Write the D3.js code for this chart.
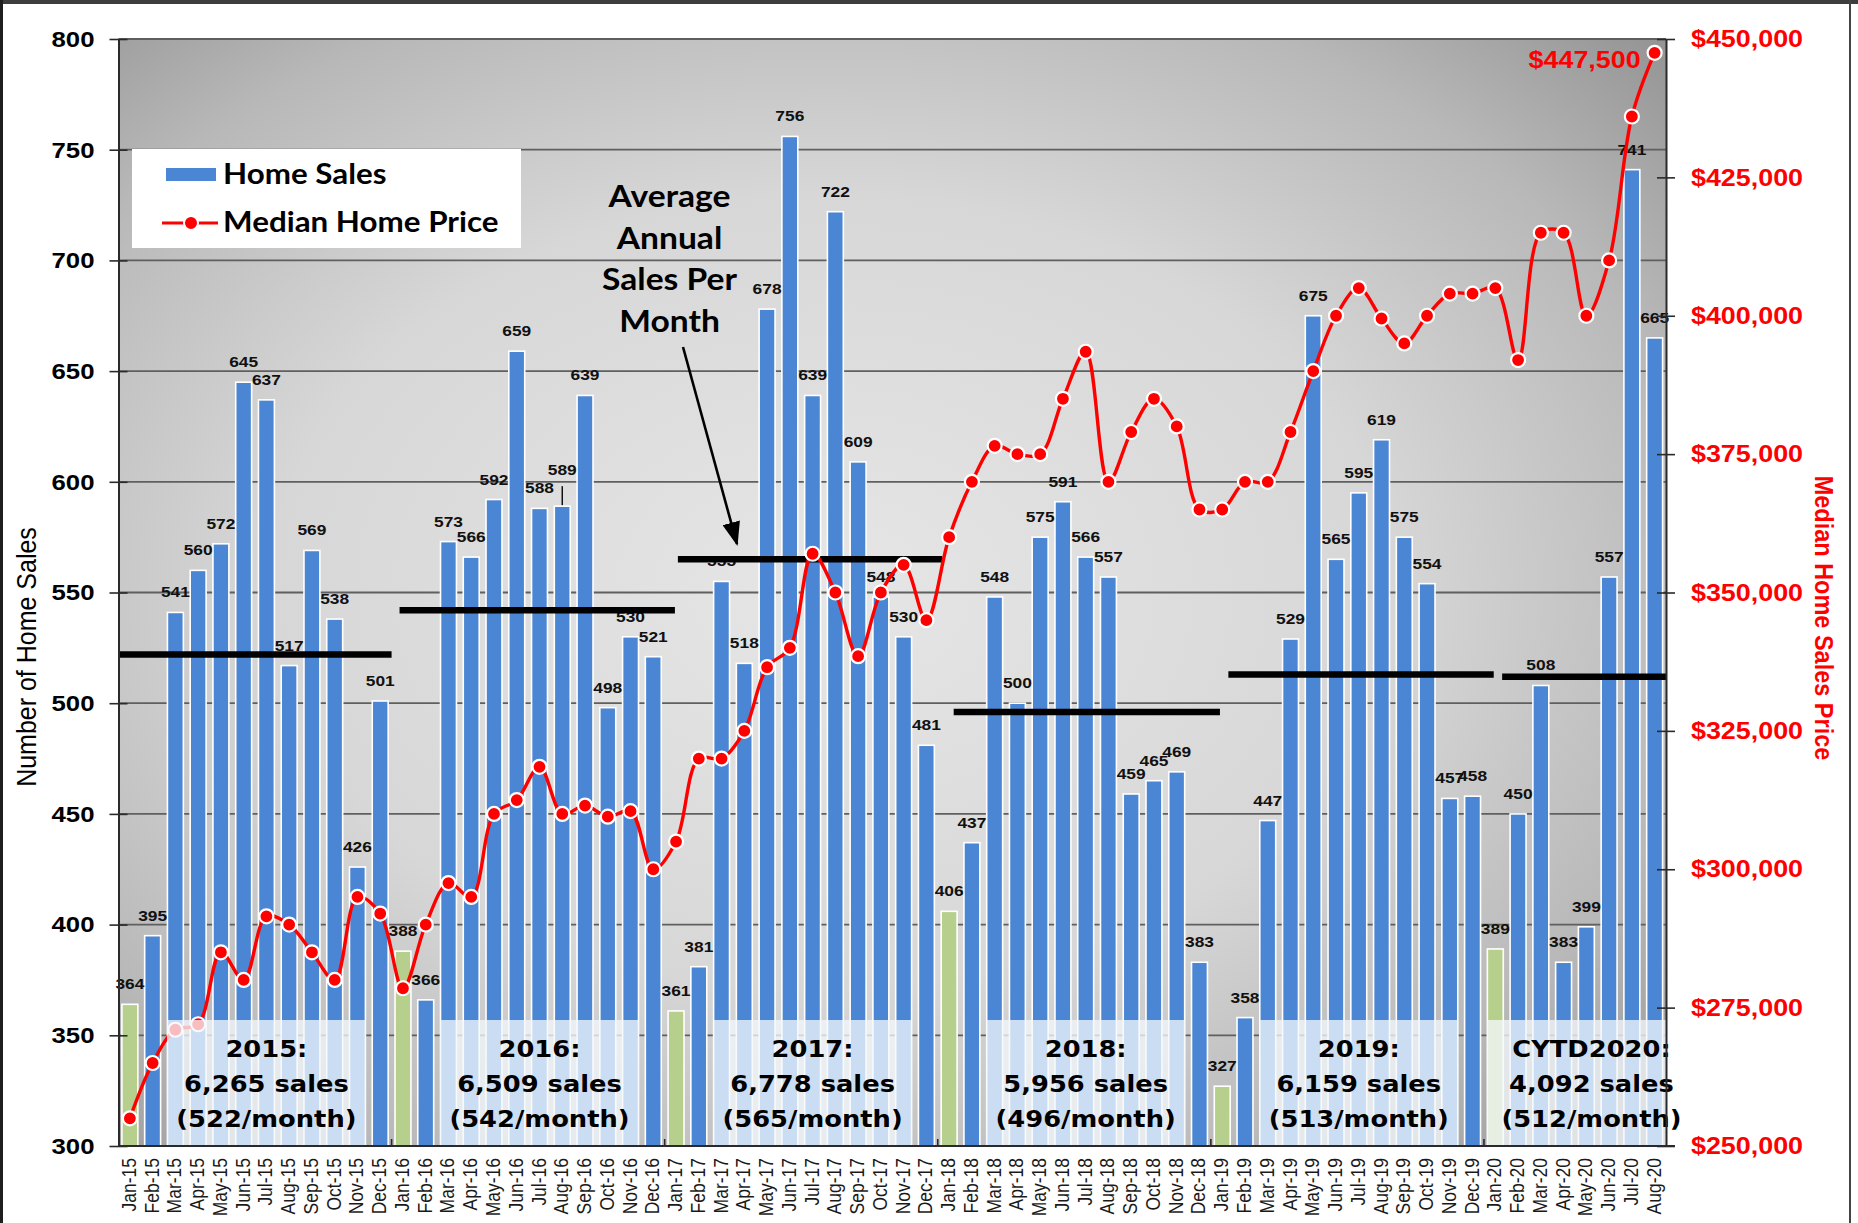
<!DOCTYPE html>
<html>
<head>
<meta charset="utf-8">
<script src="https://cdn.jsdelivr.net/npm/d3@7"></script>
<style>
  html, body { margin: 0; padding: 0; background: #fff; }
  svg { display: block; }
</style>
</head>
<body>
<svg id="chart" width="1858" height="1223"></svg>
<script>
// ---- Data -------------------------------------------------------------
const months = [
  "Jan-15","Feb-15","Mar-15","Apr-15","May-15","Jun-15","Jul-15","Aug-15","Sep-15","Oct-15","Nov-15","Dec-15",
  "Jan-16","Feb-16","Mar-16","Apr-16","May-16","Jun-16","Jul-16","Aug-16","Sep-16","Oct-16","Nov-16","Dec-16",
  "Jan-17","Feb-17","Mar-17","Apr-17","May-17","Jun-17","Jul-17","Aug-17","Sep-17","Oct-17","Nov-17","Dec-17",
  "Jan-18","Feb-18","Mar-18","Apr-18","May-18","Jun-18","Jul-18","Aug-18","Sep-18","Oct-18","Nov-18","Dec-18",
  "Jan-19","Feb-19","Mar-19","Apr-19","May-19","Jun-19","Jul-19","Aug-19","Sep-19","Oct-19","Nov-19","Dec-19",
  "Jan-20","Feb-20","Mar-20","Apr-20","May-20","Jun-20","Jul-20","Aug-20"
];

const homeSales = [
  364, 395, 541, 560, 572, 645, 637, 517, 569, 538, 426, 501,
  388, 366, 573, 566, 592, 659, 588, 589, 639, 498, 530, 521,
  361, 381, 555, 518, 678, 756, 639, 722, 609, 548, 530, 481,
  406, 437, 548, 500, 575, 591, 566, 557, 459, 465, 469, 383,
  327, 358, 447, 529, 675, 565, 595, 619, 575, 554, 457, 458,
  389, 450, 508, 383, 399, 557, 741, 665
];

const medianPrice = [
  255000, 265000, 271000, 272000, 285000, 280000, 291500, 290000, 285000, 280000, 295000, 292000,
  278500, 290000, 297500, 295000, 310000, 312500, 318500, 310000, 311500, 309500, 310500, 300000,
  305000, 320000, 320000, 325000, 336500, 340000, 357000, 350000, 338500, 350000, 355000, 345000,
  360000, 370000, 376500, 375000, 375000, 385000, 393500, 370000, 379000, 385000, 380000, 365000,
  365000, 370000, 370000, 379000, 390000, 400000, 405000, 399500, 395000, 400000, 404000, 404000,
  405000, 392000, 415000, 415000, 400000, 410000, 436000, 447500
];

const summaryTitles   = ["2015:", "2016:", "2017:", "2018:", "2019:", "CYTD2020:"];
const summaryTotals   = [6265, 6509, 6778, 5956, 6159, 4092];
const summaryAverages = [522, 542, 565, 496, 513, 512];

const salesTicks = [300, 350, 400, 450, 500, 550, 600, 650, 700, 750, 800];
const priceTicks = [250000, 275000, 300000, 325000, 350000, 375000, 400000, 425000, 450000];

const annotationLines = ["Average", "Annual", "Sales Per", "Month"];

// ---- Layout -----------------------------------------------------------
const plot = { left: 118.5, right: 1666, top: 39, bottom: 1146 };
const SX = 1.12;                       // horizontal text stretch
const BLUE = "#4a86d3", GREEN = "#b7cf8c", RED = "#ff0000";

const svg = d3.select("#chart");
const defs = svg.append("defs");

const x = d3.scaleBand()
  .domain(months)
  .range([plot.left, plot.right])
  .paddingInner(0.3)
  .paddingOuter(0.15);
const step = x.step();
const cx = d => x(d) + x.bandwidth() / 2;
const edge = k => plot.left + k * step;          // band boundary k

const ySales = d3.scaleLinear().domain([300, 800]).range([plot.bottom, plot.top]);
const yPrice = d3.scaleLinear().domain([250000, 450000]).range([plot.bottom, plot.top]);

// ---- Frame ------------------------------------------------------------
svg.append("rect").attr("width", 1858).attr("height", 1223).attr("fill", "#fff");
svg.append("rect").attr("x", 0).attr("y", 0).attr("width", 1858).attr("height", 4).attr("fill", "#3d3d3d");
svg.append("rect").attr("x", 0).attr("y", 0).attr("width", 3).attr("height", 1223).attr("fill", "#1e1e1e");
svg.append("rect").attr("x", 1849).attr("y", 0).attr("width", 2).attr("height", 1223).attr("fill", "#444");

// ---- Plot background gradient -----------------------------------------
const grad = defs.append("radialGradient")
  .attr("id", "plotBg")
  .attr("cx", 0.46).attr("cy", 0.5).attr("r", 0.8);
[[0, "#e6e6e6"], [0.45, "#d7d7d7"], [0.72, "#b8b8b8"], [1, "#858585"]]
  .forEach(([o, c]) => grad.append("stop").attr("offset", o).attr("stop-color", c));

svg.append("rect")
  .attr("x", plot.left).attr("y", plot.top)
  .attr("width", plot.right - plot.left).attr("height", plot.bottom - plot.top)
  .attr("fill", "url(#plotBg)");

// ---- Gridlines --------------------------------------------------------
svg.append("g").selectAll("line")
  .data(salesTicks.filter(v => v > 300))
  .join("line")
  .attr("x1", plot.left).attr("x2", plot.right)
  .attr("y1", d => ySales(d)).attr("y2", d => ySales(d))
  .attr("stroke", "#5f5f5f").attr("stroke-width", 1.8);

// ---- Bars -------------------------------------------------------------
svg.append("g").selectAll("rect")
  .data(months)
  .join("rect")
  .attr("x", d => x(d))
  .attr("width", x.bandwidth())
  .attr("y", (d, i) => ySales(homeSales[i]))
  .attr("height", (d, i) => plot.bottom - ySales(homeSales[i]))
  .attr("fill", d => d.startsWith("Jan") ? GREEN : BLUE)
  .attr("stroke", "#ffffff").attr("stroke-width", 1.6);

// ---- Bar value labels -------------------------------------------------
const labelLift = { "Aug-16": 16 };   // label raised with a leader line
const barLabels = svg.append("g")
  .attr("font-family", "'Liberation Sans', Arial, sans-serif")
  .attr("font-weight", "bold").attr("font-size", 15.5).attr("fill", "#111")
  .attr("text-anchor", "middle");
barLabels.selectAll("text")
  .data(months)
  .join("text")
  .attr("transform", (d, i) =>
    `translate(${cx(d)},${ySales(homeSales[i]) - 15 - (labelLift[d] || 0)}) scale(${SX},1)`)
  .text((d, i) => homeSales[i]);
Object.keys(labelLift).forEach(m => {
  const i = months.indexOf(m);
  svg.append("line")
    .attr("x1", cx(m)).attr("x2", cx(m))
    .attr("y1", ySales(homeSales[i]) - 20).attr("y2", ySales(homeSales[i]) - 1)
    .attr("stroke", "#111").attr("stroke-width", 1.5);
});

// ---- Average monthly sales bars (thick black lines) --------------------
const avgFrom = [0, 12.35, 24.58, 36.7, 48.77, 60.8];
const avgTo   = [12, 24.45, 36.2, 48.4, 60.43, 68];
svg.append("g").selectAll("line")
  .data(summaryAverages)
  .join("line")
  .attr("x1", (d, i) => edge(avgFrom[i]))
  .attr("x2", (d, i) => edge(avgTo[i]))
  .attr("y1", d => ySales(d)).attr("y2", d => ySales(d))
  .attr("stroke", "#000").attr("stroke-width", 6.5);

// ---- Median price line -------------------------------------------------
const priceLine = d3.line()
  .x((d, i) => cx(months[i]))
  .y(d => yPrice(d))
  .curve(d3.curveCatmullRom.alpha(0.5));

svg.append("path")
  .datum(medianPrice)
  .attr("d", priceLine)
  .attr("fill", "none")
  .attr("stroke", RED).attr("stroke-width", 3.4);

svg.append("g").selectAll("circle")
  .data(medianPrice)
  .join("circle")
  .attr("cx", (d, i) => cx(months[i]))
  .attr("cy", d => yPrice(d))
  .attr("r", 7)
  .attr("fill", RED)
  .attr("stroke", "#fff").attr("stroke-width", 2.2);

// ---- Year summary boxes -----------------------------------------------
const boxFirst = [2, 14, 26, 38, 50, 60];
const boxLast  = [10, 22, 34, 46, 58, 67];
const textShift = [0, 0, 0, 0, 0, 15];
const boxTop = 1020;
const boxes = svg.append("g");
summaryTitles.forEach((title, i) => {
  const x0 = edge(boxFirst[i]) + 3;
  const x1 = i === summaryTitles.length - 1 ? plot.right : edge(boxLast[i] + 1) - 3;
  boxes.append("rect")
    .attr("x", x0).attr("y", boxTop)
    .attr("width", x1 - x0).attr("height", plot.bottom - boxTop)
    .attr("fill", "#f4f8fd").attr("fill-opacity", 0.76);
  const mid = (x0 + x1) / 2 + textShift[i];
  const lines = [title,
                 d3.format(",")(summaryTotals[i]) + " sales",
                 "(" + summaryAverages[i] + "/month)"];
  lines.forEach((t, j) => {
    boxes.append("text")
      .attr("transform", `translate(${mid},${1057 + j * 35}) scale(${SX},1)`)
      .attr("text-anchor", "middle")
      .attr("font-family", "'DejaVu Sans', Verdana, sans-serif")
      .attr("font-weight", "bold").attr("font-size", 23)
      .attr("fill", "#000")
      .text(t);
  });
});

// ---- Axes -------------------------------------------------------------
const axisFont = "'Liberation Sans', Arial, sans-serif";

const leftAxis = svg.append("g")
  .attr("transform", `translate(${plot.left},0)`)
  .call(d3.axisLeft(ySales).tickValues(salesTicks).tickSizeInner(9).tickSizeOuter(0).tickPadding(15));
leftAxis.select(".domain").attr("stroke", "#2a2a2a").attr("stroke-width", 2);
leftAxis.selectAll(".tick line").attr("x1", 9).attr("stroke", "#2a2a2a").attr("stroke-width", 1.6);
leftAxis.selectAll(".tick text")
  .attr("x", -24 / SX).attr("transform", `scale(${SX},1)`)
  .attr("font-family", axisFont).attr("font-weight", "bold").attr("font-size", 23).attr("fill", "#000");

const rightAxis = svg.append("g")
  .attr("transform", `translate(${plot.right},0)`)
  .call(d3.axisRight(yPrice).tickValues(priceTicks).tickFormat(d3.format("$,")).tickSizeInner(9).tickSizeOuter(0));
rightAxis.select(".domain").attr("stroke", "#2a2a2a").attr("stroke-width", 2);
rightAxis.selectAll(".tick line").attr("x1", -9).attr("stroke", "#2a2a2a").attr("stroke-width", 1.6);
rightAxis.selectAll(".tick text")
  .attr("x", 25 / SX).attr("transform", `scale(${SX},1)`)
  .attr("font-family", axisFont).attr("font-weight", "bold").attr("font-size", 24).attr("fill", RED);

// bottom axis
const bottomAxis = svg.append("g")
  .attr("transform", `translate(0,${plot.bottom})`)
  .call(d3.axisBottom(x).tickSize(0).tickPadding(0));
bottomAxis.select(".domain").remove();
bottomAxis.selectAll(".tick text")
  .attr("y", 0).attr("dy", 0)
  .attr("transform", `translate(6,12) scale(${SX},1) rotate(-90)`)
  .attr("text-anchor", "end")
  .attr("font-family", axisFont).attr("font-size", 17.5).attr("fill", "#1a1a1a");
svg.append("line")
  .attr("x1", plot.left).attr("x2", plot.right + 9)
  .attr("y1", plot.bottom).attr("y2", plot.bottom)
  .attr("stroke", "#2a2a2a").attr("stroke-width", 2);
svg.append("g").selectAll("line")
  .data([12, 24, 36, 48, 60])
  .join("line")
  .attr("x1", d => edge(d)).attr("x2", d => edge(d))
  .attr("y1", plot.bottom - 7).attr("y2", plot.bottom)
  .attr("stroke", "#2a2a2a").attr("stroke-width", 1.6);

// axis titles
svg.append("text")
  .attr("transform", `translate(36,657) scale(${SX},1) rotate(-90)`)
  .attr("text-anchor", "middle")
  .attr("font-family", axisFont).attr("font-size", 25).attr("fill", "#000")
  .text("Number of Home Sales");

svg.append("text")
  .attr("transform", `translate(1815,618) scale(${SX},1) rotate(90)`)
  .attr("text-anchor", "middle")
  .attr("font-family", axisFont).attr("font-weight", "bold").attr("font-size", 23.5).attr("fill", RED)
  .text("Median Home Sales Price");

// ---- Latest price callout ---------------------------------------------
const lastIdx = medianPrice.length - 1;
svg.append("text")
  .attr("transform", `translate(${cx(months[lastIdx]) - 14},${yPrice(medianPrice[lastIdx]) + 15}) scale(${SX},1)`)
  .attr("text-anchor", "end")
  .attr("font-family", axisFont).attr("font-weight", "bold").attr("font-size", 24).attr("fill", RED)
  .text(d3.format("$,")(medianPrice[lastIdx]));

// ---- Legend -----------------------------------------------------------
const legend = svg.append("g");
legend.append("rect").attr("x", 132).attr("y", 149).attr("width", 389).attr("height", 99).attr("fill", "#fff");
legend.append("rect").attr("x", 166).attr("y", 168).attr("width", 50).attr("height", 13).attr("fill", BLUE);
legend.append("line").attr("x1", 162).attr("x2", 218).attr("y1", 223).attr("y2", 223)
  .attr("stroke", RED).attr("stroke-width", 3.2);
legend.append("circle").attr("cx", 191).attr("cy", 223).attr("r", 7)
  .attr("fill", RED).attr("stroke", "#fff").attr("stroke-width", 2);
[["Home Sales", 184], ["Median Home Price", 232]].forEach(([t, y]) => {
  legend.append("text")
    .attr("transform", `translate(223,${y}) scale(${SX},1)`)
    .attr("font-family", "Lato, 'Open Sans', sans-serif")
    .attr("font-weight", "bold").attr("font-size", 28).attr("fill", "#000")
    .text(t);
});

// ---- Annotation -------------------------------------------------------
const note = svg.append("g");
annotationLines.forEach((t, i) => {
  note.append("text")
    .attr("transform", `translate(669.5,${207 + i * 41.7}) scale(${SX},1)`)
    .attr("text-anchor", "middle")
    .attr("font-family", "Lato, 'Open Sans', sans-serif")
    .attr("font-weight", "bold").attr("font-size", 30).attr("fill", "#000")
    .text(t);
});
defs.append("marker")
  .attr("id", "arrowHead")
  .attr("markerUnits", "userSpaceOnUse")
  .attr("viewBox", "0 0 24 18")
  .attr("refX", 22).attr("refY", 9)
  .attr("markerWidth", 24).attr("markerHeight", 18)
  .attr("orient", "auto")
  .append("path").attr("d", "M0,0 L24,9 L0,18 Z").attr("fill", "#000");
note.append("line")
  .attr("x1", 683).attr("y1", 347).attr("x2", 737).attr("y2", 544)
  .attr("stroke", "#000").attr("stroke-width", 2.6)
  .attr("marker-end", "url(#arrowHead)");
</script>
</body>
</html>
